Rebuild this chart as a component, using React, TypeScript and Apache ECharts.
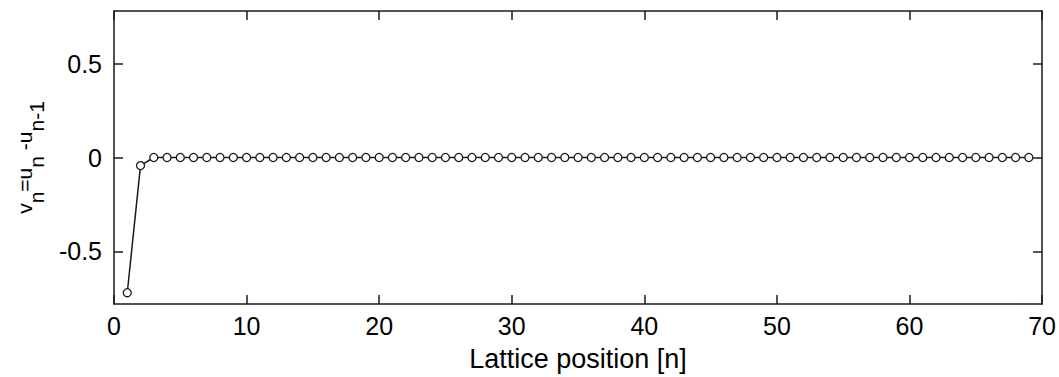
import React, { useEffect, useRef } from "react";
import * as echarts from "echarts";

const positions = [
  1, 2, 3, 4, 5, 6, 7, 8, 9, 10, 11, 12, 13, 14, 15, 16, 17, 18, 19, 20, 21, 22, 23,
  24, 25, 26, 27, 28, 29, 30, 31, 32, 33, 34, 35, 36, 37, 38, 39, 40, 41, 42, 43, 44,
  45, 46, 47, 48, 49, 50, 51, 52, 53, 54, 55, 56, 57, 58, 59, 60, 61, 62, 63, 64, 65,
  66, 67, 68, 69,
];
const vValues = [
  -0.72, -0.043, 0, 0, 0, 0, 0, 0, 0, 0, 0, 0, 0, 0, 0, 0, 0, 0, 0, 0, 0, 0, 0, 0, 0,
  0, 0, 0, 0, 0, 0, 0, 0, 0, 0, 0, 0, 0, 0, 0, 0, 0, 0, 0, 0, 0, 0, 0, 0, 0, 0, 0, 0,
  0, 0, 0, 0, 0, 0, 0, 0, 0, 0, 0, 0, 0, 0, 0, 0,
];
const yTicks = [-0.5, 0, 0.5];
const xTickInterval = 10;
const xName = "Lattice position [n]";

const FONT = "'Liberation Sans', Arial, sans-serif";
const FS = 25;
const NFS = 27;
const YFS = 21;
const LINE = "#1a1a1a";

export default function App() {
  const ref = useRef<HTMLDivElement>(null);
  useEffect(() => {
    if (!ref.current) return;
    const chart = echarts.init(ref.current, undefined, { renderer: "svg" });
    const axisLine = { show: true, onZero: false, lineStyle: { color: LINE, width: 1.5 } };
    const tick = { show: true, inside: true, length: 9, lineStyle: { color: LINE, width: 1.5 } };
    const main = { fontSize: YFS, fontFamily: FONT, color: "#000", lineHeight: 24, padding: [0, 0, 12, 0] };
    const sub = { fontSize: YFS, fontFamily: FONT, color: "#000", lineHeight: 24, padding: [12, 0, 0, 0] };
    chart.setOption({
      animation: false,
      backgroundColor: "#fff",
      grid: { left: 114, right: 14, top: 11, bottom: 72, containLabel: false },
      xAxis: [
        {
          type: "value",
          min: 0,
          max: 70,
          interval: xTickInterval,
          position: "bottom",
          name: xName,
          nameLocation: "middle",
          nameGap: 41,
          nameTextStyle: { fontSize: NFS, fontFamily: FONT, color: "#000" },
          axisLine,
          axisTick: tick,
          axisLabel: { fontSize: FS, fontFamily: FONT, color: "#000", margin: 9 },
          splitLine: { show: false },
        },
        {
          type: "value",
          min: 0,
          max: 70,
          interval: xTickInterval,
          position: "top",
          axisLine,
          axisTick: tick,
          axisLabel: { show: false },
          splitLine: { show: false },
        },
      ],
      yAxis: [
        {
          type: "value",
          min: -0.78,
          max: 0.78,
          position: "left",
          name: "{m|v}{s|n}{m|=u}{s|n}{m| -u}{s|n-1}",
          nameLocation: "middle",
          nameRotate: 90,
          nameGap: 72,
          nameTextStyle: { rich: { m: main, s: sub } },
          axisLine,
          axisTick: { ...tick, customValues: yTicks },
          axisLabel: { fontSize: FS, fontFamily: FONT, color: "#000", margin: 12, customValues: yTicks },
          splitLine: { show: false },
        },
        {
          type: "value",
          min: -0.78,
          max: 0.78,
          position: "right",
          axisLine,
          axisTick: { ...tick, customValues: yTicks },
          axisLabel: { show: false, customValues: yTicks },
          splitLine: { show: false },
        },
      ],
      series: [
        {
          type: "line",
          data: positions.map((n, i) => [n, vValues[i]]),
          symbol: "circle",
          symbolSize: 8,
          showSymbol: true,
          lineStyle: { color: LINE, width: 1.5 },
          itemStyle: { color: "#fff", borderColor: LINE, borderWidth: 1.3 },
          emphasis: { disabled: true },
        },
      ],
    });
    return () => chart.dispose();
  }, []);
  return (
    <div
      ref={ref}
      style={{ position: "absolute", left: 0, top: 0, width: 1059, height: 377 }}
    />
  );
}
